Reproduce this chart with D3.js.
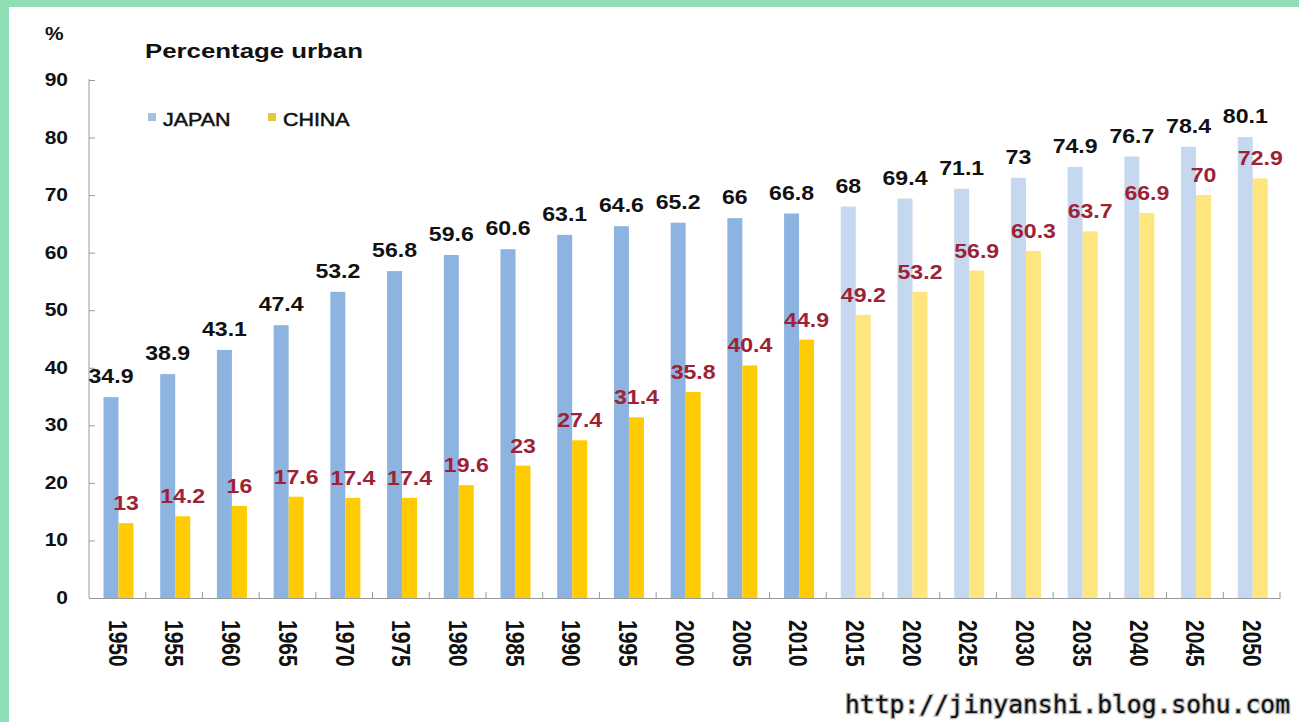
<!DOCTYPE html>
<html><head><meta charset="utf-8">
<script src="https://cdn.jsdelivr.net/npm/d3@7"></script>
<style>body{margin:0;background:#fff}svg{display:block}</style>
</head><body>
<svg id="c" width="1299" height="722"></svg>
<script>
const years = [1950,1955,1960,1965,1970,1975,1980,1985,1990,1995,2000,2005,2010,2015,2020,2025,2030,2035,2040,2045,2050];
const japan = [34.9,38.9,43.1,47.4,53.2,56.8,59.6,60.6,63.1,64.6,65.2,66,66.8,68,69.4,71.1,73,74.9,76.7,78.4,80.1];
const china = [13,14.2,16,17.6,17.4,17.4,19.6,23,27.4,31.4,35.8,40.4,44.9,49.2,53.2,56.9,60.3,63.7,66.9,70,72.9];
const yTicks = [0,10,20,30,40,50,60,70,80,90];
const seriesNames = ["JAPAN","CHINA"];
const firstProjectedYear = 2015;

const colors = {
  japan: "#8DB3E0", japanProj: "#C6D8EF",
  china: "#FFCB05", chinaProj: "#FFE57E",
  chinaLabel: "#9E2236"
};
const FONT = "'Liberation Sans', Arial, sans-serif";

const svg = d3.select("#c");
svg.append("rect").attr("width",1299).attr("height",722).attr("fill","#8FDEB6");
svg.append("rect").attr("x",9).attr("y",7).attr("width",1290).attr("height",715).attr("fill","#fff");

const x = d3.scaleBand().domain(years).range([89,1280]);
const xs = d3.scaleBand().domain(["japan","china"]).range([14.5,44.5]);
const y = d3.scaleLinear().domain([0,90]).range([598,80]);

// y axis
const ya = svg.append("g").attr("transform","translate(89,0)")
  .call(d3.axisLeft(y).tickValues(yTicks).tickSize(-6).tickFormat(""));
ya.select(".domain").attr("stroke","#9a9a9a").attr("d","M0,79V598");
ya.selectAll(".tick line").attr("stroke","#9a9a9a");
ya.selectAll(".tick text").remove();
svg.append("g").selectAll("text").data(yTicks).join("text")
  .attr("transform",d=>`translate(68,${y(d)+6}) scale(1.2,1)`)
  .attr("text-anchor","end").attr("font-family",FONT).attr("font-weight","bold")
  .attr("font-size",17.5).attr("fill","#111").text(d=>d);

// bars
const proj = yr => yr >= firstProjectedYear;
const g = svg.append("g");
g.selectAll("rect.j").data(years).join("rect").attr("class","j")
  .attr("x",(d)=>x(d)+xs("japan")).attr("width",xs.bandwidth())
  .attr("y",(d,i)=>y(japan[i])).attr("height",(d,i)=>y(0)-y(japan[i]))
  .attr("fill",d=>proj(d)?colors.japanProj:colors.japan);
g.selectAll("rect.c").data(years).join("rect").attr("class","c")
  .attr("x",(d)=>x(d)+xs("china")).attr("width",xs.bandwidth())
  .attr("y",(d,i)=>y(china[i])).attr("height",(d,i)=>y(0)-y(china[i]))
  .attr("fill",d=>proj(d)?colors.chinaProj:colors.china);

// x axis
const xa = svg.append("g").attr("transform","translate(0,598)")
  .call(d3.axisBottom(x).tickSize(0).tickFormat(""));
xa.select(".domain").attr("stroke","#9a9a9a");
svg.append("g").selectAll("line").data(years.slice(1).map(d=>x(d)).concat([x.range()[1]]))
  .join("line").attr("x1",d=>d).attr("x2",d=>d).attr("y1",598).attr("y2",592)
  .attr("stroke","#9a9a9a");
svg.append("g").selectAll("text").data(years).join("text")
  .attr("transform",d=>`translate(${x(d)+x.bandwidth()/2},620) rotate(90) scale(1,1.2)`)
  .attr("dominant-baseline","central").attr("font-family",FONT).attr("font-weight","bold")
  .attr("font-size",21).attr("fill","#111").text(d=>d);

// value labels
svg.append("g").selectAll("text").data(years).join("text")
  .attr("transform",(d,i)=>`translate(${x(d)+xs("japan")+xs.bandwidth()/2},${y(japan[i])-14}) scale(1.1,1)`)
  .attr("text-anchor","middle").attr("font-family",FONT).attr("font-weight","bold")
  .attr("font-size",21).attr("fill","#111").text((d,i)=>japan[i]);
svg.append("g").selectAll("text").data(years).join("text")
  .attr("transform",(d,i)=>`translate(${x(d)+xs("china")+xs.bandwidth()/2},${y(china[i])-13}) scale(1.1,1)`)
  .attr("text-anchor","middle").attr("font-family",FONT).attr("font-weight","bold")
  .attr("font-size",21).attr("fill",colors.chinaLabel).text((d,i)=>china[i]);

// title, unit
svg.append("text").attr("transform","translate(145,58) scale(1.23,1)")
  .attr("font-family",FONT).attr("font-weight","bold").attr("font-size",21).attr("fill","#111")
  .text("Percentage urban");
svg.append("text").attr("transform","translate(45,40) scale(1.1,1)")
  .attr("font-family",FONT).attr("font-weight","bold").attr("font-size",19).attr("fill","#111")
  .text("%");

// legend
const legX = [148,268];
const legC = ["#A6C0E0","#E2CC3C"];
seriesNames.forEach((n,i)=>{
  svg.append("rect").attr("x",legX[i]).attr("y",113).attr("width",8).attr("height",8).attr("fill",legC[i]);
  svg.append("text").attr("transform",`translate(${legX[i]+15},126) scale(1.19,1)`)
    .attr("font-family",FONT).attr("font-size",18).attr("fill","#111")
    .attr("stroke","#111").attr("stroke-width",0.5).text(n);
});

// watermark
svg.append("text").attr("x",845).attr("y",713).attr("textLength",445).attr("lengthAdjust","spacingAndGlyphs")
  .attr("font-family","'DejaVu Sans Mono', monospace").attr("font-size",24)
  .attr("fill","#111").attr("stroke","#bbb").attr("stroke-width",2.5).attr("paint-order","stroke")
  .text("http://jinyanshi.blog.sohu.com");
</script>
</body></html>
